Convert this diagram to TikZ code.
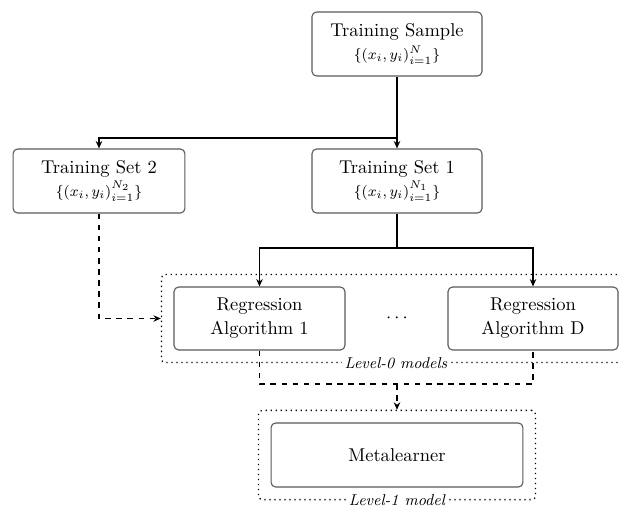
\documentclass[tikz,border=0pt]{standalone}
\usetikzlibrary{arrows.meta,fit,positioning}
\begin{document}
\begin{tikzpicture}[x=0.54pt,y=-0.54pt,
  box/.style={draw=black!65,line width=0.6pt,rounded corners=2.5pt,align=center,
    inner sep=2pt,font=\normalsize},
  wire/.style={line width=0.8pt,-{Stealth[length=4pt,width=3.5pt]}},
  plain/.style={line width=0.8pt},
  dwire/.style={line width=0.8pt,dashed,-{Stealth[length=4pt,width=3.5pt]}},
  dplain/.style={line width=0.8pt,dashed},
  group/.style={draw,dotted,line width=0.7pt,rounded corners=2pt,inner sep=6.5pt},
  grouplabel/.style={fill=white,font=\fontsize{8.5}{10}\selectfont\itshape,inner sep=1.5pt}]
\useasboundingbox (0,0) rectangle (619,506);

% data boxes
\node[box,minimum width=91.8pt,minimum height=34.6pt] (ts) at (397,44)
  {Training Sample\\{\footnotesize$\{(x_i,y_i)_{i=1}^{N}\}$}};
\node[box,minimum width=92.8pt,minimum height=34.6pt] (ts2) at (99,181)
  {Training Set 2\\{\footnotesize$\{(x_i,y_i)_{i=1}^{N_2}\}$}};
\node[box,minimum width=91.8pt,minimum height=34.6pt] (ts1) at (397,181)
  {Training Set 1\\{\footnotesize$\{(x_i,y_i)_{i=1}^{N_1}\}$}};

% level-0 learners
\node[box,minimum width=92.3pt,minimum height=34pt] (ra1) at (259.5,318.5)
  {Regression\\[1pt]Algorithm 1};
\node[box,minimum width=91.8pt,minimum height=34pt] (raD) at (533,318.5)
  {Regression\\[1pt]Algorithm D};
\node (dots) at (397,318) {$\cdots$};
\node[group,fit=(ra1)(raD)] (lv0) {};
\node[grouplabel] (lv0lab) at (lv0.south) {Level-0 models};

% level-1 learner
\node[box,minimum width=136pt,minimum height=34.6pt] (meta) at (397,455) {Metalearner};
\node[group,fit=(meta)] (lv1) {};
\node[grouplabel] (lv1lab) at (lv1.south) {Level-1 model};

% split of the training sample
\coordinate (split) at (397,138);
\draw[plain] (ts.south) -- (split);
\draw[wire] (split) -- (ts1.north);
\draw[wire] (split) -| (ts2.north);

% training set 1 feeds every base learner
\coordinate (fan) at (397,248);
\draw[plain] (ts1.south) -- (fan);
\draw[wire] (fan) -| (ra1.north);
\draw[wire] (fan) -| (raD.north);

% training set 2 feeds the level-0 group
\draw[dwire] (ts2.south) |- (lv0.west);

% level-0 predictions collected for the metalearner
\coordinate (join) at (397,384);
\draw[dplain] (ra1.south) |- (join) -| (raD.south);
\draw[dwire] (join) -- (lv1.north);
\end{tikzpicture}
\end{document}
